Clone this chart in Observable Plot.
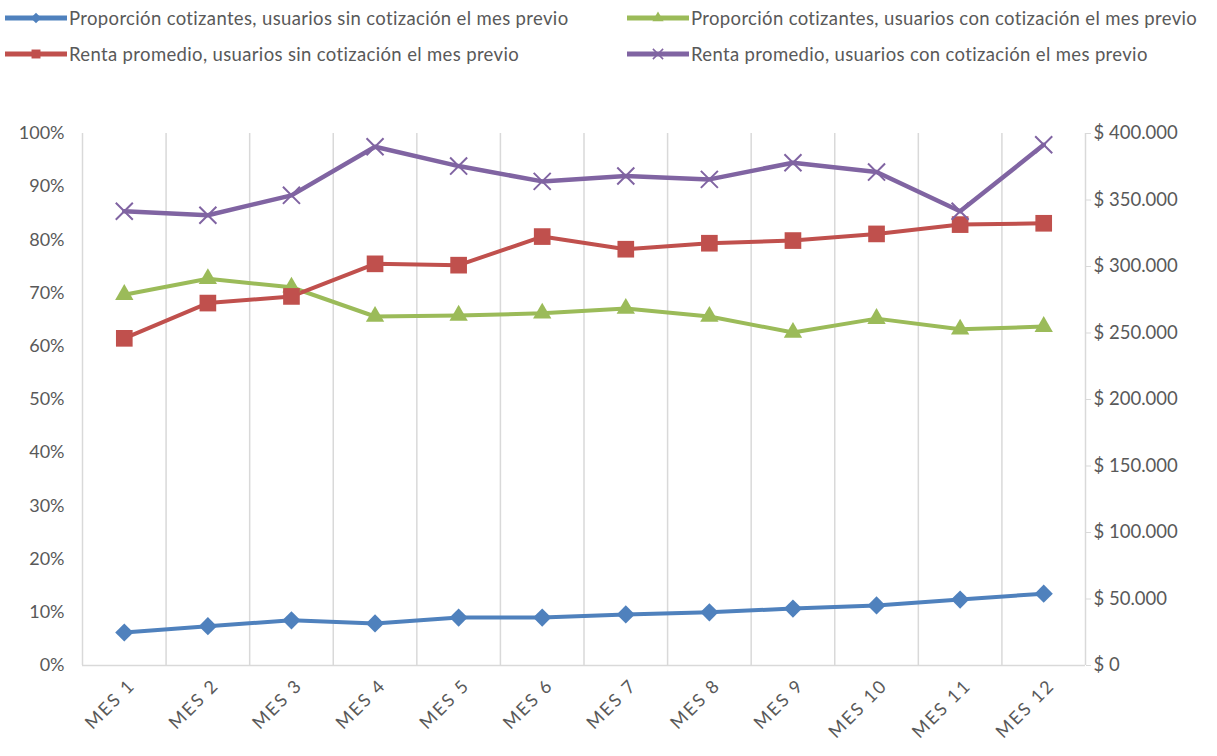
<!DOCTYPE html>
<html><head><meta charset="utf-8">
<script src="https://cdn.jsdelivr.net/npm/d3@7"></script>
<script src="https://cdn.jsdelivr.net/npm/@observablehq/plot@0.6"></script>
<style>
body{margin:0;background:#fff;font-family:Lato, "Open Sans", sans-serif;}
#legend{position:relative;height:80px;width:1217px;}
.item{position:absolute;display:flex;align-items:center;font-size:18.5px;letter-spacing:0.35px;color:#595959;white-space:nowrap;height:24px;}
.item svg{margin-right:2px;}
#chart g[aria-label="x-axis tick label"] text{letter-spacing:2px;}
</style></head><body>
<div id="legend"></div>
<div id="chart"></div>
<script>
const months = ["MES 1","MES 2","MES 3","MES 4","MES 5","MES 6","MES 7","MES 8","MES 9","MES 10","MES 11","MES 12"];
const propSin = [6.2, 7.4, 8.5, 7.9, 9.0, 9.0, 9.6, 10.0, 10.7, 11.3, 12.4, 13.5];
const propCon = [69.7, 72.7, 71.1, 65.6, 65.8, 66.2, 67.1, 65.6, 62.6, 65.2, 63.2, 63.7];
const rentaSin = [246000, 272500, 277500, 302000, 301000, 322500, 313000, 317500, 319500, 324500, 331500, 332500];
const rentaCon = [341500, 338500, 353500, 390000, 375500, 364000, 368000, 365500, 378000, 371000, 341500, 391500];
const leftTicks = [0, 10, 20, 30, 40, 50, 60, 70, 80, 90, 100];
const rightTicks = [0, 50000, 100000, 150000, 200000, 250000, 300000, 350000, 400000];
const rightMax = 400000;

const seriesNames = [
  "Proporción cotizantes, usuarios sin cotización el mes previo",
  "Proporción cotizantes, usuarios con cotización el mes previo",
  "Renta promedio, usuarios sin cotización el mes previo",
  "Renta promedio, usuarios con cotización el mes previo"
];
const colors = ["#4F81BD", "#9BBB59", "#C0504D", "#8064A2"];
const symbols = ["diamond2", "triangle", "square", "times"];
const radii = [8.2, 6.8, 9.4, 7.8];
const widths = [4, 4, 4, 4.5];

function rows(values, k, toFrac) {
  return values.map((v, i) => ({mes: i + 1, serie: seriesNames[k], value: v, frac: toFrac(v)}));
}
const data = [
  rows(propSin, 0, v => v / 100),
  rows(propCon, 1, v => v / 100),
  rows(rentaSin, 2, v => v / rightMax),
  rows(rentaCon, 3, v => v / rightMax)
];

const fmtMoney = v => "$ " + (v === 0 ? "0" : d3.format(",")(v).replace(/,/g, "."));

const marks = [
  Plot.ruleX(d3.range(0, 13).map(i => i + 0.5), {stroke: "#d9d9d9", strokeWidth: 1.5}),
  Plot.ruleY([0], {stroke: "#d9d9d9", strokeWidth: 1.5}),
  Plot.axisY({anchor: "left", ticks: leftTicks.map(d => d / 100), tickSize: 0, tickPadding: 18,
    tickFormat: d => Math.round(d * 100) + "%", fill: "#595959", label: null}),
  Plot.axisY({anchor: "right", ticks: rightTicks.map(d => d / rightMax), tickSize: 5, tickPadding: 3,
    stroke: "#d9d9d9", fill: "#595959", tickFormat: d => fmtMoney(Math.round(d * rightMax)), label: null, fontSize: 18.5}),
  Plot.axisX({ticks: d3.range(1, 13), tickRotate: -45, tickSize: 0, tickPadding: 17,
    tickFormat: d => months[d - 1], fill: "#595959", label: null, fontSize: 18, dx: 8})
];
data.forEach((d, k) => {
  marks.push(Plot.line(d, {x: "mes", y: "frac", stroke: colors[k], strokeWidth: widths[k]}));
});
data.forEach((d, k) => {
  if (symbols[k] === "times") {
    marks.push(Plot.dot(d, {x: "mes", y: "frac", symbol: "times", r: radii[k], stroke: colors[k], strokeWidth: 2}));
  } else {
    marks.push(Plot.dot(d, {x: "mes", y: "frac", symbol: symbols[k], r: radii[k], fill: colors[k], stroke: "none"}));
  }
});

const chart = Plot.plot({
  width: 1217, height: 676,
  marginTop: 53, marginBottom: 91, marginLeft: 82, marginRight: 132,
  x: {type: "linear", domain: [0.5, 12.5]},
  y: {domain: [0, 1]},
  style: {fontFamily: "Lato, 'Open Sans', sans-serif", fontSize: "18px", color: "#595959", background: "#fff"},
  marks
});
document.getElementById("chart").appendChild(chart);

// Legend
const legend = document.getElementById("legend");
const pos = [[5, 6], [627, 6], [5, 42], [627, 42]];
const order = [0, 1, 2, 3];
const symMap = {diamond2: d3.symbolDiamond2, triangle: d3.symbolTriangle, square: d3.symbolSquare, times: d3.symbolTimes};
const legendSizes = [70, 55, 80, 70];
order.forEach((k, j) => {
  const div = document.createElement("div");
  div.className = "item";
  div.style.left = pos[j][0] + "px";
  div.style.top = pos[j][1] + "px";
  const ns = "http://www.w3.org/2000/svg";
  const svg = document.createElementNS(ns, "svg");
  svg.setAttribute("width", 62); svg.setAttribute("height", 24);
  const line = document.createElementNS(ns, "line");
  line.setAttribute("x1", 0); line.setAttribute("x2", 62); line.setAttribute("y1", 12); line.setAttribute("y2", 12);
  line.setAttribute("stroke", colors[k]); line.setAttribute("stroke-width", 5);
  svg.appendChild(line);
  const p = document.createElementNS(ns, "path");
  p.setAttribute("d", d3.symbol(symMap[symbols[k]], legendSizes[k])());
  p.setAttribute("transform", "translate(31,12)");
  if (symbols[k] === "times") { p.setAttribute("stroke", colors[k]); p.setAttribute("fill", "none"); p.setAttribute("stroke-width", 1.5); }
  else p.setAttribute("fill", colors[k]);
  svg.appendChild(p);
  div.appendChild(svg);
  const span = document.createElement("span");
  span.textContent = seriesNames[k];
  div.appendChild(span);
  legend.appendChild(div);
});
</script>
</body></html>
